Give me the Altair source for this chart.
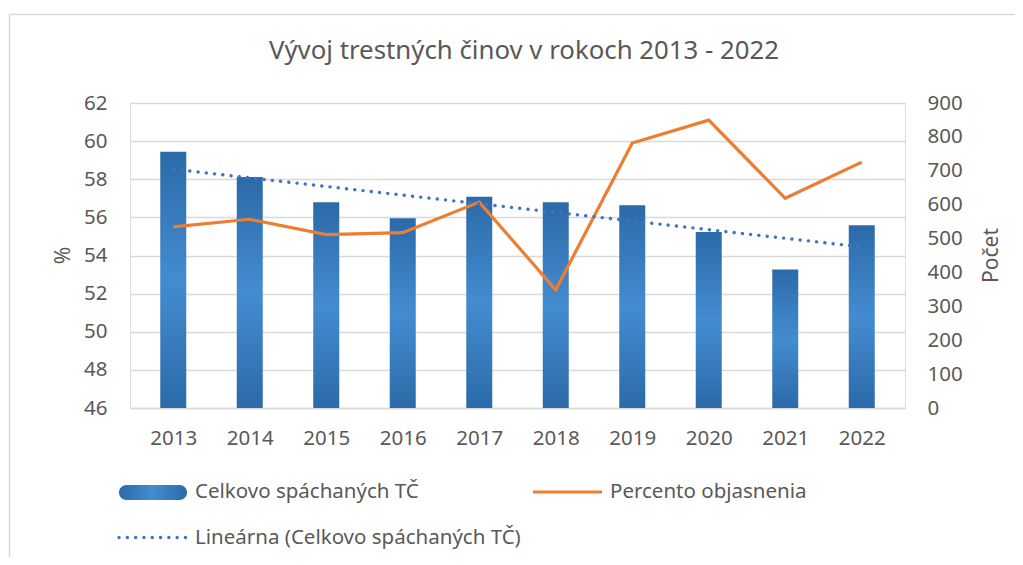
import altair as alt
import pandas as pd

years = [2013, 2014, 2015, 2016, 2017, 2018, 2019, 2020, 2021, 2022]
counts = [756, 682, 607, 560, 623, 607, 598, 519, 409, 539]
pct = [55.5, 55.9, 55.1, 55.2, 56.8, 52.2, 59.9, 61.1, 57.0, 58.9]

title_text = "Vývoj trestných činov v rokoch 2013 - 2022"
legend_labels = ["Celkovo spáchaných TČ", "Percento objasnenia", "Lineárna (Celkovo spáchaných TČ)"]
left_title = "%"
right_title = "Počet"

FONT = "Noto Sans"
TXT = "#595959"
GRID = "#D9D9D9"
DARK = "#2C6AA8"
LIGHT = "#438CD0"
ORANGE = "#ED7D31"
TREND = "#4472C4"

df = pd.DataFrame({"year": years, "count": counts, "pct": pct})
base = alt.Chart(df)

xenc = alt.X(
    "year:Q",
    title=None,
    scale=alt.Scale(domain=[2012.5, 2022.5], nice=False, zero=False),
    axis=alt.Axis(values=years, format="d", tickSize=0, labelPadding=20,
                  labelFontSize=20.5, labelFont=FONT, labelColor=TXT,
                  domainColor=GRID, domainWidth=1.3, grid=False, labelFlush=False,
                  labelOverlap=False),
)

vgrad = alt.LinearGradient(
    gradient="linear", x1=0, y1=0, x2=0, y2=1,
    stops=[alt.GradientStop(color=DARK, offset=0),
           alt.GradientStop(color=LIGHT, offset=0.5),
           alt.GradientStop(color=DARK, offset=1)],
)
hgrad = alt.LinearGradient(
    gradient="linear", x1=0, y1=0, x2=1, y2=0,
    stops=[alt.GradientStop(color=DARK, offset=0),
           alt.GradientStop(color=LIGHT, offset=0.5),
           alt.GradientStop(color=DARK, offset=1)],
)

count_scale = alt.Scale(domain=[0, 900], nice=False)

yright = alt.Y(
    "count:Q",
    scale=count_scale,
    axis=alt.Axis(orient="right", values=list(range(0, 901, 100)), grid=False,
                  tickSize=0, domain=False, labelPadding=22, labelFontSize=20.5,
                  labelFont=FONT, labelColor=TXT, labelOverlap=False,
                  title=right_title, titleAngle=270,
                  titleFont=FONT, titleFontSize=21, titleFontWeight="normal",
                  titleColor=TXT, titleX=86, titleY=152, titleBaseline="middle",
                  titleAlign="center"),
)

bars = base.mark_bar(size=26, orient="vertical", color=vgrad).encode(x=xenc, y=yright)

trend = base.transform_regression("year", "count").mark_line(
    color=TREND, strokeWidth=3.4, strokeDash=[0.1, 8.2], strokeCap="round"
).encode(x=xenc, y=alt.Y("count:Q", scale=count_scale, axis=None))

line = base.mark_line(color=ORANGE, strokeWidth=3.2).encode(
    x=xenc,
    y=alt.Y(
        "pct:Q",
        scale=alt.Scale(domain=[46, 62], nice=False, zero=False),
        axis=alt.Axis(orient="left", values=list(range(46, 63, 2)), grid=True,
                      gridColor=GRID, gridWidth=1.3, tickSize=0, domain=False,
                      labelPadding=23, labelFontSize=20.5, labelFont=FONT,
                      labelColor=TXT, labelOverlap=False,
                      title=left_title, titleFont=FONT,
                      titleFontSize=21, titleFontWeight="normal", titleColor=TXT,
                      titleX=-67, titleY=152, titleAngle=270, titleBaseline="middle",
                      titleAlign="center"),
    ),
)

main = alt.layer(bars, line, trend).resolve_scale(y="independent")

# title, legend and border (layout elements)
one = pd.DataFrame({"k": [0]})
lg = alt.Chart(one)
ttl = lg.mark_text(align="center", baseline="middle", font=FONT, fontSize=25.8, color=TXT,
                   text=title_text).encode(x=alt.value(394), y=alt.value(-52))
pill = lg.mark_rect(cornerRadius=7.5, color=hgrad).encode(
    x=alt.value(-11), x2=alt.value(57), y=alt.value(382), y2=alt.value(397))
lab1 = lg.mark_text(align="left", baseline="middle", font=FONT, fontSize=20.5, color=TXT,
                    text=legend_labels[0]).encode(x=alt.value(65), y=alt.value(389))
orule = lg.mark_rule(color=ORANGE, strokeWidth=3.2).encode(
    x=alt.value(403), x2=alt.value(472), y=alt.value(389))
lab2 = lg.mark_text(align="left", baseline="middle", font=FONT, fontSize=20.5, color=TXT,
                    text=legend_labels[1]).encode(x=alt.value(480), y=alt.value(389))
drule = lg.mark_rule(color=TREND, strokeWidth=3.4, strokeDash=[0.1, 8.2], strokeCap="round").encode(
    x=alt.value(-11), x2=alt.value(57), y=alt.value(434.5))
lab3 = lg.mark_text(align="left", baseline="middle", font=FONT, fontSize=20.5, color=TXT,
                    text=legend_labels[2]).encode(x=alt.value(65), y=alt.value(434.5))
btop = lg.mark_rule(color=GRID, strokeWidth=1.5).encode(
    x=alt.value(-120.5), x2=alt.value(900), y=alt.value(-88.5))
bleft = lg.mark_rule(color=GRID, strokeWidth=1.5).encode(
    x=alt.value(-120.5), y=alt.value(-88.5), y2=alt.value(460))

chart = alt.layer(main, ttl, pill, lab1, orule, lab2, drule, lab3, btop, bleft).properties(
    width=775,
    height=305,
    autosize=alt.AutoSizeParams(type="none"),
    padding={"left": 122, "top": 95, "right": 110, "bottom": 149},
).configure_view(stroke=None).configure(background="white")

chart.save("out.html", embed_options={"renderer": "svg", "actions": False})
